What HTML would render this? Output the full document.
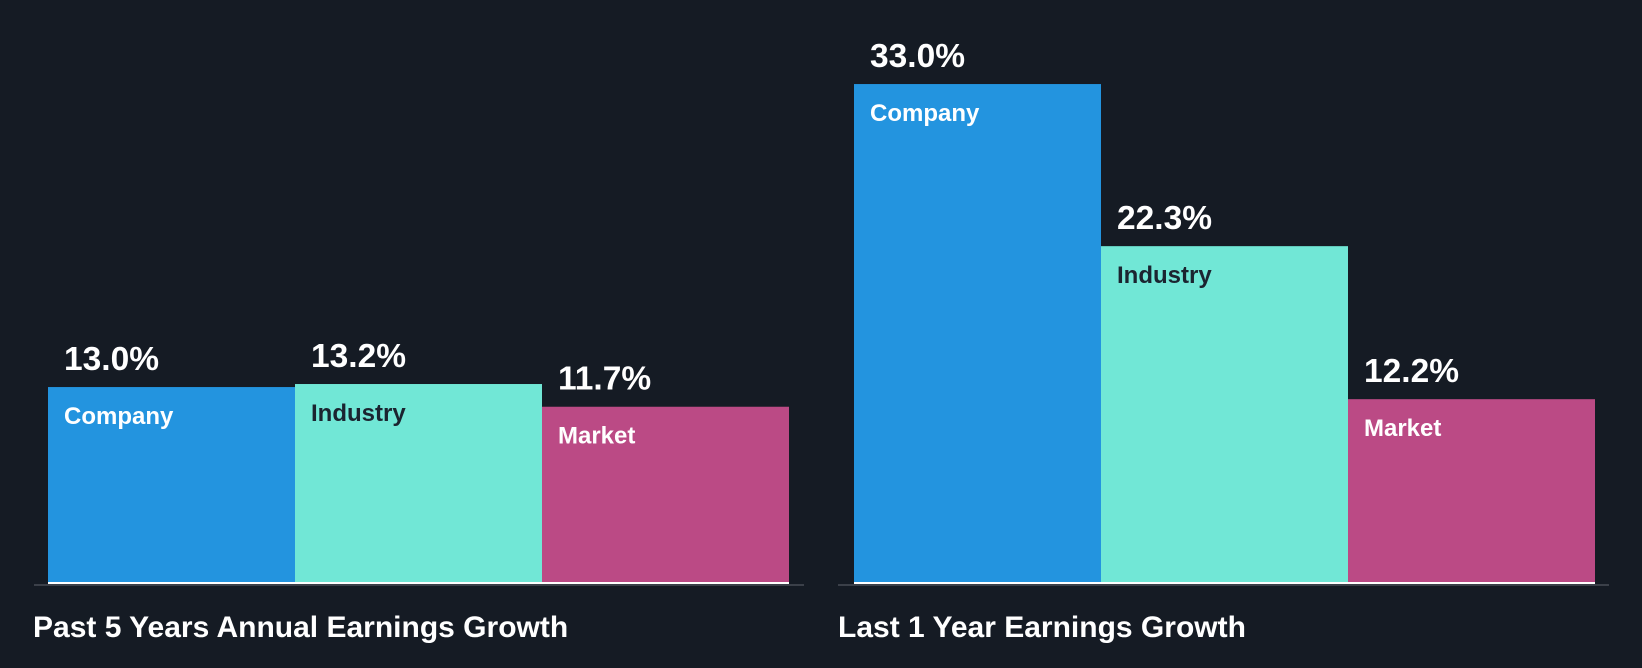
<!DOCTYPE html>
<html><head><meta charset="utf-8"><style>
html,body{margin:0;padding:0;background:#151b24;}
svg{display:block;font-family:"Liberation Sans",sans-serif;}
</style></head><body>
<svg id="chart" width="1642" height="668" viewBox="0 0 1642 668">
<rect width="1642" height="668" fill="#151b24"/>
</svg>
<script>
const categories = ["Company", "Industry", "Market"];
const past5Values = [13.0, 13.2, 11.7];
const last1Values = [33.0, 22.3, 12.2];
const panelTitles = ["Past 5 Years Annual Earnings Growth", "Last 1 Year Earnings Growth"];

const colors = ["#2394df", "#71e7d6", "#bb4a85"];
const catTextColors = ["#ffffff", "#1b2430", "#ffffff"];
const baseY = 584, pxPerUnit = 15.15, barW = 247;
const panels = [
  {values: past5Values, x0: 48, axisL: 34, axisR: 804, titleX: 33},
  {values: last1Values, x0: 854, axisL: 838, axisR: 1609, titleX: 838}
];
const svg = document.getElementById('chart');
const NS = 'http://www.w3.org/2000/svg';
function y(v){ return baseY - v * pxPerUnit; }
function mk(tag, attrs){ const e = document.createElementNS(NS, tag); for (const k in attrs) e.setAttribute(k, attrs[k]); svg.appendChild(e); return e; }

panels.forEach((p, pi) => {
  const axis = mk('line', {x1: p.axisL, x2: p.axisR, y1: baseY + 1, y2: baseY + 1, stroke: '#3b4049', 'stroke-width': 2});
  
  
  p.values.forEach((v, i) => {
    const x = p.x0 + i * barW;
    const bar = mk('rect', {x: x, y: y(v), width: barW, height: baseY - y(v), fill: colors[i]});
    
    
    const base = mk('rect', {x: x, y: baseY - 2, width: barW, height: 2, fill: '#ffffff'});
    
    
    const val = mk('text', {x: x + 16, y: y(v) - 17, fill: '#ffffff', 'font-size': 33.5, 'font-weight': 'bold'});
    val.textContent = v.toFixed(1) + '%';
    
    
    const cat = mk('text', {x: x + 16, y: y(v) + 37, fill: catTextColors[i], 'font-size': 24, 'font-weight': 'bold'});
    cat.textContent = categories[i];
    
    
  });
  const t = mk('text', {x: p.titleX, y: 637, fill: '#ffffff', 'font-size': 30, 'font-weight': 'bold'});
  t.textContent = panelTitles[pi];
  
  
});
</script>
</body></html>
